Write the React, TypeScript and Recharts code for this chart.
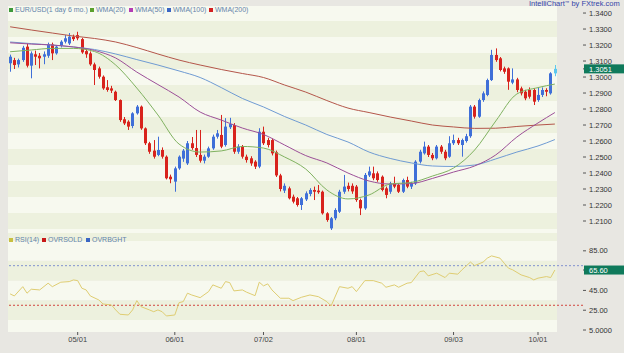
import React from 'react';
import { ComposedChart, Bar, Line, XAxis, YAxis, ReferenceLine, ReferenceArea } from 'recharts';

// trading days, Apr 9 - Oct 5 2012
const dates = [
  '04/09', '04/10', '04/11', '04/12', '04/13', '04/16', '04/17', '04/18', '04/19', '04/20',
  '04/23', '04/24', '04/25', '04/26', '04/27', '04/30',
  '05/01', '05/02', '05/03', '05/04', '05/07', '05/08', '05/09', '05/10', '05/11', '05/14',
  '05/15', '05/16', '05/17', '05/18', '05/21', '05/22', '05/23', '05/24', '05/25', '05/28',
  '05/29', '05/30', '05/31',
  '06/01', '06/04', '06/05', '06/06', '06/07', '06/08', '06/11', '06/12', '06/13', '06/14',
  '06/15', '06/18', '06/19', '06/20', '06/21', '06/22', '06/25', '06/26', '06/27', '06/28', '06/29',
  '07/02', '07/03', '07/04', '07/05', '07/06', '07/09', '07/10', '07/11', '07/12', '07/13',
  '07/16', '07/17', '07/18', '07/19', '07/20', '07/23', '07/24', '07/25', '07/26', '07/27',
  '07/30', '07/31',
  '08/01', '08/02', '08/03', '08/06', '08/07', '08/08', '08/09', '08/10', '08/13', '08/14',
  '08/15', '08/16', '08/17', '08/20', '08/21', '08/22', '08/23', '08/24', '08/27', '08/28',
  '08/29', '08/30', '08/31',
  '09/03', '09/04', '09/05', '09/06', '09/07', '09/10', '09/11', '09/12', '09/13', '09/14',
  '09/17', '09/18', '09/19', '09/20', '09/21', '09/24', '09/25', '09/26', '09/27', '09/28',
  '10/01', '10/02', '10/03', '10/04', '10/05',
];

const open = [
  1.3086, 1.3106, 1.3079, 1.3106, 1.3190, 1.3071, 1.3142, 1.3133, 1.3127, 1.3133,
  1.3204, 1.3148, 1.3196, 1.3221, 1.3210, 1.3252, 1.3262, 1.3237, 1.3162, 1.3148,
  1.3079, 1.3054, 1.3002, 1.2936, 1.2929, 1.2908, 1.2856, 1.2736, 1.2721, 1.2694,
  1.2773, 1.2815, 1.2679, 1.2586, 1.2540, 1.2513, 1.2544, 1.2502, 1.2377, 1.2346,
  1.2429, 1.2490, 1.2460, 1.2586, 1.2556, 1.2513, 1.2477, 1.2502, 1.2554, 1.2627,
  1.2638, 1.2575, 1.2686, 1.2700, 1.2533, 1.2565, 1.2502, 1.2492, 1.2471, 1.2440,
  1.2658, 1.2606, 1.2606, 1.2530, 1.2385, 1.2290, 1.2304, 1.2252, 1.2242, 1.2200,
  1.2235, 1.2269, 1.2294, 1.2290, 1.2283, 1.2148, 1.2054, 1.2117, 1.2158, 1.2283,
  1.2320, 1.2320, 1.2315, 1.2231, 1.2179, 1.2385, 1.2398, 1.2398, 1.2377, 1.2304,
  1.2283, 1.2335, 1.2325, 1.2283, 1.2356, 1.2315, 1.2335, 1.2471, 1.2523, 1.2565,
  1.2513, 1.2492, 1.2565, 1.2533, 1.2502, 1.2586, 1.2606, 1.2575, 1.2600, 1.2630,
  1.2815, 1.2752, 1.2856, 1.2888, 1.2981, 1.3138, 1.3117, 1.3054, 1.3054, 1.2965,
  1.2985, 1.2929, 1.2908, 1.2919, 1.2919, 1.2856, 1.2888, 1.2919, 1.2898, 1.3023,
];
const high = [
  1.3140, 1.3120, 1.3115, 1.3195, 1.3210, 1.3160, 1.3165, 1.3150, 1.3160, 1.3215,
  1.3215, 1.3200, 1.3230, 1.3262, 1.3275, 1.3265, 1.3283, 1.3245, 1.3175, 1.3160,
  1.3090, 1.3065, 1.3010, 1.2981, 1.2945, 1.2915, 1.2860, 1.2750, 1.2730, 1.2780,
  1.2825, 1.2822, 1.2685, 1.2595, 1.2606, 1.2627, 1.2560, 1.2510, 1.2390, 1.2440,
  1.2510, 1.2550, 1.2600, 1.2625, 1.2669, 1.2669, 1.2515, 1.2565, 1.2640, 1.2669,
  1.2763, 1.2743, 1.2745, 1.2712, 1.2580, 1.2575, 1.2515, 1.2505, 1.2480, 1.2680,
  1.2690, 1.2620, 1.2615, 1.2540, 1.2395, 1.2335, 1.2315, 1.2265, 1.2250, 1.2250,
  1.2285, 1.2305, 1.2315, 1.2325, 1.2290, 1.2155, 1.2125, 1.2180, 1.2295, 1.2388,
  1.2340, 1.2335, 1.2325, 1.2240, 1.2400, 1.2440, 1.2440, 1.2410, 1.2385, 1.2315,
  1.2345, 1.2377, 1.2335, 1.2365, 1.2377, 1.2345, 1.2480, 1.2545, 1.2596, 1.2575,
  1.2525, 1.2575, 1.2575, 1.2545, 1.2630, 1.2640, 1.2620, 1.2615, 1.2645, 1.2825,
  1.2825, 1.2865, 1.2910, 1.2990, 1.3170, 1.3179, 1.3125, 1.3065, 1.3060, 1.3054,
  1.2995, 1.2940, 1.2920, 1.2935, 1.2930, 1.2935, 1.2935, 1.2930, 1.3030, 1.3075,
];
const low = [
  1.3033, 1.3050, 1.3060, 1.3095, 1.3060, 1.2992, 1.3075, 1.3054, 1.3080, 1.3120,
  1.3106, 1.3140, 1.3185, 1.3210, 1.3200, 1.3225, 1.3230, 1.3145, 1.3120, 1.3070,
  1.2950, 1.2990, 1.2920, 1.2908, 1.2900, 1.2850, 1.2720, 1.2700, 1.2669, 1.2680,
  1.2765, 1.2670, 1.2575, 1.2520, 1.2490, 1.2505, 1.2490, 1.2360, 1.2336, 1.2283,
  1.2420, 1.2470, 1.2450, 1.2545, 1.2500, 1.2465, 1.2460, 1.2495, 1.2545, 1.2615,
  1.2555, 1.2565, 1.2675, 1.2520, 1.2520, 1.2490, 1.2465, 1.2445, 1.2425, 1.2430,
  1.2575, 1.2560, 1.2510, 1.2375, 1.2285, 1.2275, 1.2235, 1.2210, 1.2190, 1.2169,
  1.2225, 1.2255, 1.2231, 1.2270, 1.2140, 1.2095, 1.2044, 1.2105, 1.2150, 1.2270,
  1.2285, 1.2270, 1.2220, 1.2137, 1.2170, 1.2375, 1.2355, 1.2345, 1.2285, 1.2242,
  1.2270, 1.2305, 1.2275, 1.2275, 1.2305, 1.2300, 1.2325, 1.2460, 1.2515, 1.2500,
  1.2480, 1.2485, 1.2520, 1.2480, 1.2495, 1.2575, 1.2575, 1.2502, 1.2590, 1.2620,
  1.2740, 1.2745, 1.2845, 1.2880, 1.2975, 1.3095, 1.3035, 1.3020, 1.2920, 1.2955,
  1.2905, 1.2885, 1.2855, 1.2865, 1.2825, 1.2845, 1.2875, 1.2880, 1.2890, 1.3005,
];
const close = [
  1.3127, 1.3075, 1.3106, 1.3183, 1.3071, 1.3148, 1.3127, 1.3117, 1.3142, 1.3204,
  1.3148, 1.3190, 1.3221, 1.3242, 1.3252, 1.3237, 1.3242, 1.3154, 1.3142, 1.3079,
  1.3044, 1.3002, 1.2929, 1.2919, 1.2915, 1.2856, 1.2731, 1.2710, 1.2690, 1.2773,
  1.2815, 1.2679, 1.2586, 1.2533, 1.2502, 1.2544, 1.2502, 1.2367, 1.2361, 1.2429,
  1.2502, 1.2540, 1.2586, 1.2556, 1.2513, 1.2477, 1.2502, 1.2554, 1.2627, 1.2648,
  1.2565, 1.2690, 1.2706, 1.2533, 1.2565, 1.2502, 1.2481, 1.2460, 1.2440, 1.2658,
  1.2586, 1.2575, 1.2523, 1.2385, 1.2300, 1.2320, 1.2242, 1.2221, 1.2200, 1.2242,
  1.2273, 1.2294, 1.2283, 1.2280, 1.2148, 1.2106, 1.2117, 1.2169, 1.2283, 1.2315,
  1.2300, 1.2285, 1.2231, 1.2179, 1.2388, 1.2410, 1.2367, 1.2356, 1.2294, 1.2263,
  1.2335, 1.2315, 1.2283, 1.2356, 1.2315, 1.2335, 1.2471, 1.2533, 1.2565, 1.2513,
  1.2492, 1.2565, 1.2533, 1.2492, 1.2586, 1.2606, 1.2586, 1.2606, 1.2630, 1.2815,
  1.2752, 1.2856, 1.2898, 1.2981, 1.3138, 1.3106, 1.3044, 1.3033, 1.2971, 1.2985,
  1.2919, 1.2898, 1.2867, 1.2877, 1.2846, 1.2888, 1.2919, 1.2908, 1.3023, 1.3051,
];

// moving averages every 5th session
const maIdx = [0, 5, 10, 15, 20, 25, 30, 35, 40, 45, 50, 55, 60, 65, 70, 75, 80, 85, 90, 95, 100, 105, 110, 115, 120, 125, 129];
const wma20 = [1.3158, 1.3169, 1.3179, 1.3179, 1.3159, 1.3075, 1.2931, 1.2763, 1.2581, 1.2531, 1.2538, 1.2566, 1.2556, 1.2500, 1.2425, 1.2294, 1.2238, 1.2263, 1.2331, 1.2341, 1.2381, 1.2431, 1.2544, 1.2725, 1.2894, 1.2934, 1.2956];
const wma50 = [1.3214, 1.3206, 1.3200, 1.3188, 1.3166, 1.3119, 1.3031, 1.2953, 1.2875, 1.2781, 1.2731, 1.2681, 1.2641, 1.2575, 1.2509, 1.2463, 1.2400, 1.2350, 1.2331, 1.2334, 1.2366, 1.2406, 1.2444, 1.2513, 1.2625, 1.2713, 1.2778];
const wma100 = [1.3219, 1.3209, 1.3200, 1.3188, 1.3172, 1.3144, 1.3109, 1.3075, 1.3038, 1.2997, 1.2934, 1.2866, 1.2813, 1.2753, 1.2700, 1.2641, 1.2594, 1.2531, 1.2491, 1.2463, 1.2444, 1.2441, 1.2450, 1.2488, 1.2531, 1.2569, 1.2609];
const wma200 = [1.3314, 1.3294, 1.3275, 1.3256, 1.3241, 1.3219, 1.3184, 1.3144, 1.3106, 1.3075, 1.3047, 1.3022, 1.2997, 1.2950, 1.2906, 1.2853, 1.2806, 1.2778, 1.2750, 1.2725, 1.2700, 1.2688, 1.2679, 1.2680, 1.2691, 1.2700, 1.2706];

const rsiIdx = [
  0, 1, 3, 4, 5, 7, 9, 10, 12, 14, 15, 16, 17, 18, 19, 21, 22, 24, 25, 26,
  28, 29, 30, 31, 33, 34, 35, 36, 37, 39, 40, 41, 42, 43, 45, 47, 48, 50, 51, 52,
  53, 55, 56, 58, 59, 60, 61, 62, 64, 66, 67, 69, 71, 73, 75, 76, 78, 80, 81, 82,
  84, 86, 88, 89, 91, 92, 94, 95, 97, 98, 99, 101, 103, 104, 106, 107, 109, 110, 112, 113,
  114, 116, 117, 118, 119, 121, 123, 124, 125, 127, 128, 129,
];
const rsiVal = [
  41.5, 39.4, 48.8, 42.2, 46.2, 45.5, 52.3, 48.8, 53.3, 53.9, 55.6, 54.9, 47.2, 45.5, 39.4, 35.4, 31.3, 30.3, 25.3, 20.9,
  20.2, 25.3, 34.7, 28.6, 25.3, 23.5, 25.3, 23.5, 19.2, 20.2, 32.6, 33.7, 42.2, 40.4, 37.7, 43.8, 50.6, 47.2, 53.9, 52.9,
  44.5, 45.5, 43.2, 39.7, 53.3, 49.6, 51.6, 45.5, 37.1, 37.1, 34.7, 38.1, 40.4, 38.7, 33.7, 29.3, 48.8, 47.2, 48.8, 43.8,
  54.9, 54.9, 52.3, 48.2, 50.6, 48.2, 52.3, 52.9, 64, 64.7, 59.7, 62.4, 58, 62.4, 61.4, 65.8, 73.6, 70.1, 73.6, 77.6,
  79.9, 77.6, 72.5, 67.5, 65.8, 60.7, 58, 55.6, 57.4, 59, 58, 65.6,
];

const priceTicks = [1.21, 1.22, 1.23, 1.24, 1.25, 1.26, 1.27, 1.28, 1.29, 1.30, 1.31, 1.32, 1.33, 1.34];
const priceBands = [1.20, ...priceTicks];
const rsiTicks = [5, 25, 45, 85];
const rsiBands = [5, 25, 45, 65, 85, 105];
const dateTicks = ['05/01', '06/01', '07/02', '08/01', '09/03', '10/01'];
const overbought = 70;
const oversold = 30;

const FONT = '"Liberation Sans", Arial, sans-serif';
const BAND_A = '#edf1de';
const BAND_B = '#f7f9ef';

const rows: any[] = dates.map((d, i) => ({
  date: d, o: open[i], h: high[i], l: low[i], c: close[i],
  range: [low[i], high[i]],
  w20: null, w50: null, w100: null, w200: null, rsi: null,
}));
maIdx.forEach((idx, k) => {
  rows[idx].w20 = wma20[k];
  rows[idx].w50 = wma50[k];
  rows[idx].w100 = wma100[k];
  rows[idx].w200 = wma200[k];
});
rsiIdx.forEach((idx, k) => { rows[idx].rsi = rsiVal[k]; });

const lastClose = close[close.length - 1];
const lastRsi = rsiVal[rsiVal.length - 1];

const Candle = (props: any) => {
  const { x, y, width, height, payload, index } = props;
  if (!payload || height == null) return null;
  const { o, c, h, l } = payload;
  const top = height < 0 ? y + height : y;
  const hh = Math.abs(height);
  const k = hh / (h - l || 1);
  const yO = top + (h - o) * k;
  const yC = top + (h - c) * k;
  const last = index === dates.length - 1;
  const color = last ? '#5cc8ef' : c >= o ? '#3f6fd8' : '#d8231d';
  const cx = Math.round(x + width / 2);
  const bt = Math.min(yO, yC);
  const bh = Math.max(1, Math.abs(yO - yC));
  return (
    <g>
      <line x1={cx + 0.5} x2={cx + 0.5} y1={top} y2={top + hh} stroke={color} strokeWidth={1} />
      <rect x={cx - 1} y={bt} width={3} height={bh} fill={color} />
    </g>
  );
};

const Badge = (props: any) => {
  const { viewBox, text } = props;
  if (!viewBox) return null;
  const x = viewBox.x + viewBox.width;
  const y = viewBox.y;
  return (
    <g>
      <line x1={x} x2={x + 3} y1={y} y2={y} stroke="#555" />
      <rect x={x + 1} y={y - 4.5} width={40} height={9} fill="#0f7a5b" />
      <text x={x + 6} y={y + 3} fontSize={7.5} fill="#ffffff" fontFamily={FONT}>{text}</text>
    </g>
  );
};

const LegendItem = ({ left, top, color, label }: any) => (
  <div style={{ position: 'absolute', left, top, height: 8, lineHeight: '8px', display: 'flex', alignItems: 'center', fontFamily: FONT, fontSize: 7, color: '#6384ab', whiteSpace: 'nowrap' }}>
    <span style={{ display: 'inline-block', width: 4, height: 4, background: color, marginRight: 2 }} />
    {label}
  </div>
);

export default function App() {
  const tick = { fontSize: 7.5, fill: '#333', fontFamily: FONT };
  return (
    <div style={{ position: 'absolute', left: 0, top: 0, width: 624, height: 353, background: '#e8e7e2', overflow: 'hidden' }}>
      <div style={{ position: 'absolute', left: 0, top: 0 }}>
        <ComposedChart width={624} height={233} data={rows} margin={{ top: 6, right: 0, bottom: 0, left: 8 }}>
          {priceBands.map((t, k) => (
            <ReferenceArea key={t} y1={t - 0.005} y2={t + 0.005} fill={k % 2 ? BAND_A : BAND_B} fillOpacity={1} stroke="none" ifOverflow="hidden" />
          ))}
          <XAxis dataKey="date" hide scale="band" padding={{ left: 0, right: 26 }} />
          <YAxis orientation="right" width={41} domain={[1.2025, 1.3444]} ticks={priceTicks} allowDataOverflow
            tickFormatter={(v: number) => v.toFixed(4)} tick={tick} tickSize={3} tickMargin={3} axisLine={false} tickLine={{ stroke: '#555' }} />
          <Line dataKey="w200" type="monotone" stroke="#b4564a" strokeWidth={1} dot={false} activeDot={false} connectNulls isAnimationActive={false} />
          <Line dataKey="w100" type="monotone" stroke="#6f9bd3" strokeWidth={1} dot={false} activeDot={false} connectNulls isAnimationActive={false} />
          <Line dataKey="w50" type="monotone" stroke="#9c4f98" strokeWidth={1} dot={false} activeDot={false} connectNulls isAnimationActive={false} />
          <Line dataKey="w20" type="monotone" stroke="#80b260" strokeWidth={1} dot={false} activeDot={false} connectNulls isAnimationActive={false} />
          <Bar dataKey="range" isAnimationActive={false} shape={(p: any) => <Candle {...p} />} />
          <ReferenceLine y={lastClose} stroke="none" label={(p: any) => <Badge viewBox={p.viewBox} text={lastClose.toFixed(4)} />} />
        </ComposedChart>
      </div>
      <div style={{ position: 'absolute', left: 0, top: 233 }}>
        <ComposedChart width={624} height={120} data={rows} margin={{ top: 0, right: 0, bottom: 0, left: 8 }}>
          {rsiBands.map((t, k) => (
            <ReferenceArea key={t} y1={t - 10} y2={t + 10} fill={k % 2 ? BAND_A : BAND_B} fillOpacity={1} stroke="none" ifOverflow="hidden" />
          ))}
          <XAxis dataKey="date" scale="band" padding={{ left: 0, right: 26 }} ticks={dateTicks} interval={0} height={21}
            tick={{ ...tick, fill: '#444' }} tickSize={3} tickMargin={2} axisLine={false} tickLine={{ stroke: '#555' }} />
          <YAxis orientation="right" width={41} domain={[3, 103]} ticks={rsiTicks} allowDataOverflow
            tickFormatter={(v: number) => (v === 5 ? v.toFixed(4) : v.toFixed(2))} tick={tick} tickSize={3} tickMargin={3} axisLine={false} tickLine={{ stroke: '#555' }} />
          <ReferenceLine y={overbought} stroke="#8394cf" strokeDasharray="2 2" />
          <ReferenceLine y={oversold} stroke="#d2463f" strokeDasharray="2 2" />
          <Line dataKey="rsi" type="linear" stroke="#dfcd72" strokeWidth={1} dot={false} activeDot={false} connectNulls isAnimationActive={false} />
          <ReferenceLine y={lastRsi} stroke="none" label={(p: any) => <Badge viewBox={p.viewBox} text={lastRsi.toFixed(2)} />} />
        </ComposedChart>
      </div>
      <LegendItem left={9} top={6} color="#3d9a3a" label="EUR/USD(1 day 6 mo.)" />
      <LegendItem left={90} top={6} color="#5aa02c" label="WMA(20)" />
      <LegendItem left={129} top={6} color="#b43cb4" label="WMA(50)" />
      <LegendItem left={167} top={6} color="#3a66c4" label="WMA(100)" />
      <LegendItem left={209} top={6} color="#d42020" label="WMA(200)" />
      <LegendItem left={9} top={236} color="#c8c040" label="RSI(14)" />
      <LegendItem left={42} top={236} color="#c81818" label="OVRSOLD" />
      <LegendItem left={86} top={236} color="#3a66c4" label="OVRBGHT" />
      <div style={{ position: 'absolute', left: 529, top: 0, height: 8, lineHeight: '8px', fontFamily: FONT, fontSize: 7.5, color: '#3443a8', whiteSpace: 'nowrap' }}>
        IntelliChart<span style={{ fontSize: 4.5, position: 'relative', top: -2 }}>™</span> by FXtrek.com
      </div>
    </div>
  );
}
